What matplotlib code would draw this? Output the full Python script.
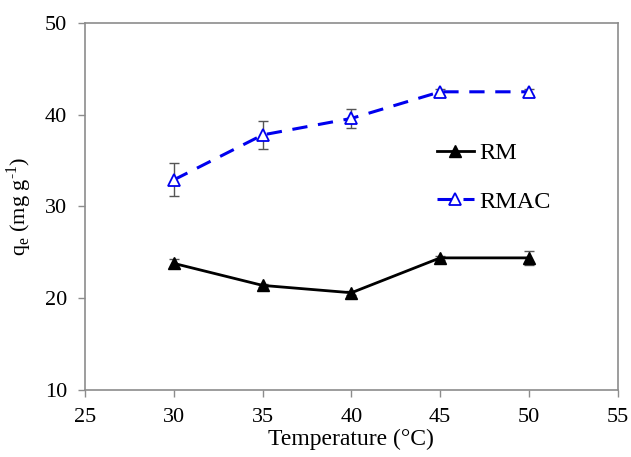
import matplotlib
matplotlib.use("Agg")
import matplotlib.pyplot as plt

temperature = [30, 35, 40, 45, 50]
rm_qe = [23.8, 21.4, 20.6, 24.4, 24.4]
rm_err = [0.5, 0.2, 0.2, 0.2, 0.75]
rmac_qe = [32.9, 37.8, 39.6, 42.5, 42.5]
rmac_err = [1.8, 1.5, 1.0, 0.3, 0.35]
xticks = [25, 30, 35, 40, 45, 50, 55]
yticks = [10, 20, 30, 40, 50]

plt.rcParams['font.family'] = ['Liberation Serif', 'DejaVu Serif']
plt.rcParams['mathtext.fontset'] = 'custom'
plt.rcParams['mathtext.rm'] = 'Liberation Serif'

fig = plt.figure(figsize=(6.31, 4.57), dpi=100)
ax = fig.add_axes([0.1347, 0.1466, 0.979 - 0.1347, 0.9497 - 0.1466])

ax.errorbar(temperature, rm_qe, yerr=rm_err, fmt='none',
            ecolor='#555555', elinewidth=1.0, capsize=3.5, capthick=1.0)
ax.errorbar(temperature, rmac_qe, yerr=rmac_err, fmt='none',
            ecolor='#555555', elinewidth=1.0, capsize=3.5, capthick=1.0)
ax.plot(temperature, rm_qe, color='black', lw=2.0,
        marker='^', ms=8, mfc='black', mec='black', label='RM')
ax.plot(temperature, rmac_qe, color='#0000ee', lw=2.2,
        linestyle=(0, (5, 3.5)),
        marker='^', ms=8, mfc='white', mec='#0000ee', mew=1.3, label='RMAC')

ax.set_xlim(25, 55)
ax.set_ylim(10, 50)
ax.set_xticks(xticks)
ax.set_yticks(yticks)
for s in ax.spines.values():
    s.set_color('#8c8c8c')
    s.set_linewidth(1.2)
ax.tick_params(direction='out', length=5, width=1.0, color='#8c8c8c',
               labelsize=16, pad=8)
ax.set_xlabel('Temperature (°C)', fontsize=17, labelpad=1)
ax.set_ylabel('q$_\\mathregular{e}$ (mg g$^\\mathregular{‐1}$)', fontsize=16, labelpad=8)

leg = ax.legend(loc='upper left', bbox_to_anchor=(0.62, 0.735), frameon=False,
                fontsize=17.5, handlelength=1.5, handletextpad=0.25,
                labelspacing=1.1)

fig.savefig('out.png', dpi=100)
